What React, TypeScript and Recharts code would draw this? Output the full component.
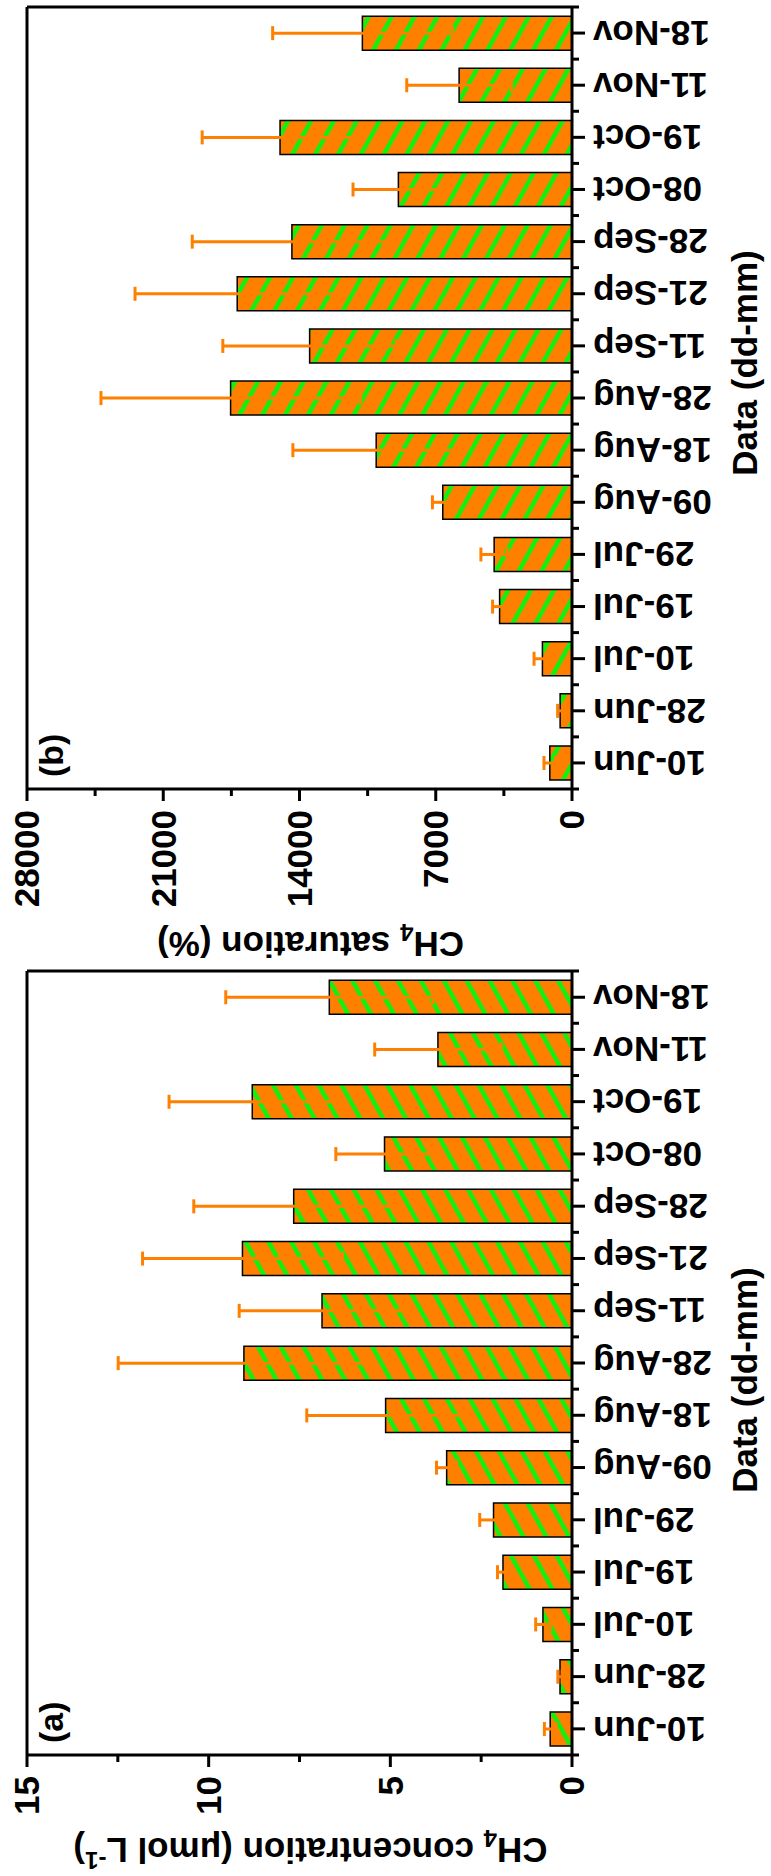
import React from "react";
import { BarChart, Bar, XAxis, YAxis, ErrorBar, ReferenceLine } from "recharts";

// sampling dates (dd-mm)
const dates = [
  "10-Jun", "28-Jun", "10-Jul", "19-Jul", "29-Jul", "09-Aug", "18-Aug", "28-Aug",
  "11-Sep", "21-Sep", "28-Sep", "08-Oct", "19-Oct", "11-Nov", "18-Nov",
];

// (a) CH4 concentration, umol/L
const concValues = [0.6, 0.33, 0.8, 1.9, 2.16, 3.45, 5.13, 9.03, 6.88, 9.07, 7.66, 5.16, 8.8, 3.69, 6.68];
const concErrors = [0.16, 0.06, 0.2, 0.15, 0.38, 0.28, 2.17, 3.46, 2.28, 2.75, 2.75, 1.34, 2.29, 1.74, 2.85];

// (b) CH4 saturation, %
const satValues = [1140, 610, 1520, 3720, 4000, 6640, 10060, 17540, 13480, 17200, 14390, 8920, 15000, 5800, 10770];
const satErrors = [300, 130, 430, 360, 680, 530, 4280, 6660, 4460, 5250, 5120, 2330, 4000, 2690, 4610];

const concTicks = [0, 2.5, 5, 7.5, 10, 12.5, 15];
const concLabels = [0, 5, 10, 15];
const concFrameTicks = [0, 1.5, 3, 4.5, 6, 7.5, 9, 10.5, 12, 13.5, 15];

const satTicks = [0, 3500, 7000, 10500, 14000, 17500, 21000, 24500, 28000];
const satLabels = [0, 7000, 14000, 21000, 28000];
const satFrameTicks = [0, 2800, 5600, 8400, 11200, 14000, 16800, 19600, 22400, 25200, 28000];

const concData = dates.map((d, i) => ({ date: d, v: concValues[i], e: concErrors[i] }));
const satData = dates.map((d, i) => ({ date: d, v: satValues[i], e: satErrors[i] }));

const FONT = "'Liberation Sans', Arial, Helvetica, sans-serif";
const ORANGE = "#FF8000";
const GREEN = "#11F011";
const FS = 35;

const textStyle = { fontFamily: FONT, fontWeight: 700, fontSize: FS, fill: "#000" };

function ValueTick(props: any) {
  const { x, y, payload, labels } = props;
  const major = labels.includes(payload.value);
  return (
    <g>
      <line x1={x} x2={x - (major ? 12 : 7)} y1={y} y2={y} stroke="#000" strokeWidth={3} />
      {major && (
        <text x={x - 21} y={y} dy="0.35em" textAnchor="end" {...textStyle}>
          {payload.value}
        </text>
      )}
    </g>
  );
}

function DateTick(props: any) {
  const { x, y, payload, index, visibleTicksCount, width } = props;
  const half = payload.offset || width / visibleTicksCount / 2;
  const last = index === visibleTicksCount - 1;
  return (
    <g>
      <line x1={x} x2={x} y1={y} y2={y + 13} stroke="#000" strokeWidth={3} />
      <line x1={x - half} x2={x - half} y1={y} y2={y + 7} stroke="#000" strokeWidth={3} />
      {last && <line x1={x + half} x2={x + half} y1={y} y2={y + 7} stroke="#000" strokeWidth={3} />}
      <text
        transform={`translate(${x},${y + 21}) rotate(-90)`}
        dy="0.35em"
        textAnchor="end"
        {...textStyle}
      >
        {payload.value}
      </text>
    </g>
  );
}

function XTitle(props: any) {
  const { viewBox, dx } = props;
  const cx = viewBox.x + viewBox.width / 2 + dx;
  return (
    <text x={cx} y={viewBox.y + 185} textAnchor="middle" {...textStyle}>
      Data (dd-mm)
    </text>
  );
}

function YTitle(props: any) {
  const { viewBox, kind } = props;
  const cx = viewBox.x + 17;
  const cy = viewBox.y + viewBox.height / 2 + 11;
  return (
    <text x={cx} y={cy} transform={`rotate(-90, ${cx}, ${cy})`} textAnchor="middle" {...textStyle}>
      CH<tspan fontSize={24} dy={8}>4</tspan>
      {kind === "conc" ? (
        <>
          <tspan dy={-8}> concentration (μmol L</tspan>
          <tspan fontSize={24} dy={-14}>-1</tspan>
          <tspan dy={14}>)</tspan>
        </>
      ) : (
        <tspan dy={-8}> saturation (%)</tspan>
      )}
    </text>
  );
}

interface PanelProps {
  data: { date: string; v: number; e: number }[];
  width: number;
  marginLeft: number;
  axisWidth: number;
  frameWidth: number;
  max: number;
  ticks: number[];
  labels: number[];
  frameTicks: number[];
  pattern: string;
  tag: string;
  kind: string;
  titleDx: number;
}

function Panel({
  data, width, marginLeft, axisWidth, frameWidth, max, ticks, labels, frameTicks, pattern, tag, kind, titleDx,
}: PanelProps) {
  return (
    <BarChart
      width={width}
      height={771}
      data={data}
      margin={{ top: 27, right: 0, bottom: 9, left: marginLeft }}
    >
      <XAxis
        dataKey="date"
        interval={0}
        height={190}
        tickSize={0}
        tickMargin={0}
        tickLine={false}
        axisLine={{ stroke: "#000", strokeWidth: 3 }}
        tick={<DateTick />}
        label={{ content: (p: any) => <XTitle {...p} dx={titleDx} /> }}
      />
      <YAxis
        domain={[0, max]}
        ticks={ticks}
        interval={0}
        width={axisWidth}
        tickSize={0}
        tickMargin={0}
        tickLine={false}
        axisLine={{ stroke: "#000", strokeWidth: 3 }}
        tick={<ValueTick labels={labels} />}
        label={{ content: (p: any) => <YTitle {...p} kind={kind} /> }}
      />
      <YAxis
        yAxisId="frame"
        orientation="right"
        domain={[0, max]}
        ticks={frameTicks}
        interval={0}
        width={frameWidth}
        tick={false}
        tickSize={5}
        tickLine={{ stroke: "#000", strokeWidth: 2 }}
        axisLine={{ stroke: "#000", strokeWidth: 3 }}
      />
      <ReferenceLine
        y={max}
        ifOverflow="visible"
        stroke="#000"
        strokeWidth={3}
        label={{
          value: tag,
          position: "insideTopLeft",
          offset: 12,
          fontSize: 34,
          fontWeight: 700,
          fontFamily: FONT,
          fill: "#000",
        }}
      />
      <Bar
        dataKey="v"
        fill={`url(#${pattern})`}
        stroke="#000"
        strokeWidth={1.5}
        barSize={34}
        isAnimationActive={false}
      >
        <ErrorBar
          dataKey="e"
          direction="y"
          width={7}
          stroke={ORANGE}
          strokeWidth={3}
          isAnimationActive={false}
        />
      </Bar>
    </BarChart>
  );
}

export default function App() {
  return (
    <div
      style={{
        position: "absolute",
        left: 0,
        top: 0,
        width: 771,
        height: 1876,
        overflow: "hidden",
        background: "#fff",
      }}
    >
      <svg width={0} height={0} style={{ position: "absolute" }}>
        <defs>
          <pattern id="hatchA" patternUnits="userSpaceOnUse" width={20} height={20} patternTransform="rotate(-29)">
            <rect width={20} height={20} fill={ORANGE} />
            <rect width={20} height={4.5} fill={GREEN} />
          </pattern>
          <pattern id="hatchB" patternUnits="userSpaceOnUse" width={20} height={20} patternTransform="rotate(29)">
            <rect width={20} height={20} fill={ORANGE} />
            <rect width={20} height={4.5} fill={GREEN} />
          </pattern>
        </defs>
      </svg>
      {/* figure is laid out landscape, then turned a quarter turn to the left */}
      <div
        style={{
          position: "absolute",
          left: 0,
          top: 0,
          width: 1876,
          height: 771,
          transformOrigin: "0 0",
          transform: "translateY(1876px) rotate(-90deg)",
        }}
      >
        <div style={{ position: "absolute", left: 0, top: 0 }}>
          <Panel
            data={concData}
            width={915}
            marginLeft={21}
            axisWidth={100}
            frameWidth={10}
            max={15}
            ticks={concTicks}
            labels={concLabels}
            frameTicks={concFrameTicks}
            pattern="hatchA"
            tag="(a)"
            kind="conc"
            titleDx={-17}
          />
        </div>
        <div style={{ position: "absolute", left: 910, top: 0 }}>
          <Panel
            data={satData}
            width={966}
            marginLeft={17}
            axisWidth={160}
            frameWidth={7}
            max={28000}
            ticks={satTicks}
            labels={satLabels}
            frameTicks={satFrameTicks}
            pattern="hatchB"
            tag="(b)"
            kind="sat"
            titleDx={35}
          />
        </div>
      </div>
    </div>
  );
}
